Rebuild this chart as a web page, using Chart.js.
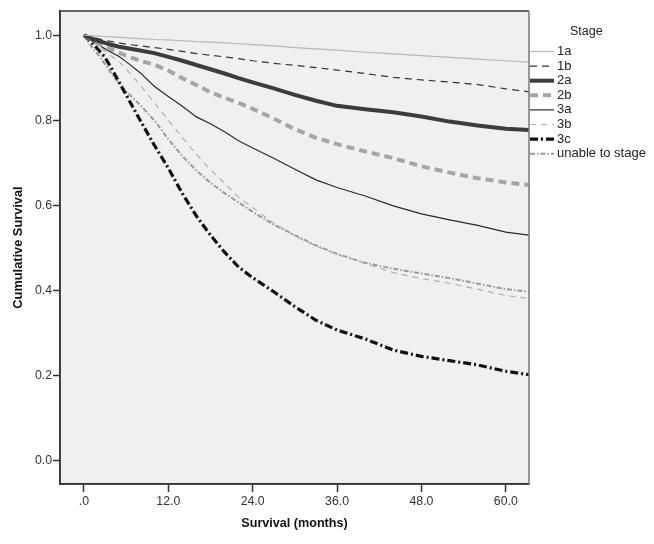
<!DOCTYPE html>
<html>
<head>
<meta charset="utf-8">
<script src="https://cdn.jsdelivr.net/npm/chart.js@4/dist/chart.umd.min.js"></script>
<style>
  html, body { margin: 0; padding: 0; background: #fff; }
  #wrap { width: 654px; height: 544px; }
</style>
</head>
<body>
<div id="wrap"><canvas id="chart" width="654" height="544"></canvas></div>
<script>
const months = [0, 1, 2, 3, 4, 5, 6, 8, 10, 12, 14, 16, 18, 20, 22, 24, 27, 30, 33, 36, 40, 44, 48, 52, 56, 60, 63.3];

const stages = ["1a", "1b", "2a", "2b", "3a", "3b", "3c", "unable to stage"];

const s1a = [1.0, .999, .998, .997, .996, .995, .994, .992, .990, .989, .987, .985, .984, .982, .980, .978, .975, .971, .968, .965, .960, .956, .952, .948, .944, .940, .937];
const s1b = [1.0, .996, .992, .988, .985, .982, .979, .975, .971, .967, .962, .957, .953, .949, .945, .940, .934, .929, .924, .918, .910, .901, .895, .890, .884, .874, .867];
const s2a = [1.0, .993, .987, .982, .977, .973, .970, .964, .958, .949, .940, .930, .920, .910, .899, .889, .875, .860, .846, .834, .826, .819, .809, .797, .788, .780, .777];
const s2b = [1.0, .990, .981, .973, .966, .959, .952, .940, .931, .917, .899, .883, .866, .853, .841, .827, .804, .779, .759, .744, .727, .711, .692, .677, .664, .654, .648];
const s3a = [1.0, .988, .978, .968, .959, .950, .938, .912, .880, .856, .833, .808, .792, .773, .752, .735, .711, .685, .660, .642, .622, .599, .580, .566, .553, .537, .530];
const s3b = [1.0, .987, .975, .962, .950, .938, .921, .883, .842, .800, .760, .720, .684, .652, .619, .595, .558, .528, .504, .485, .463, .442, .428, .417, .403, .388, .381];
const s3c = [1.0, .985, .967, .948, .920, .890, .860, .800, .742, .688, .628, .575, .530, .490, .455, .430, .397, .362, .330, .307, .286, .260, .245, .235, .225, .210, .202];
const sUnable = [1.0, .975, .955, .932, .908, .887, .868, .836, .800, .756, .716, .682, .653, .629, .607, .585, .555, .530, .506, .486, .465, .451, .440, .429, .416, .403, .397];

const xTicks = [0, 12, 24, 36, 48, 60];
const xTickLabels = [".0", "12.0", "24.0", "36.0", "48.0", "60.0"];
const yTicks = [0, 0.2, 0.4, 0.6, 0.8, 1.0];
const yTickLabels = ["0.0", "0.2", "0.4", "0.6", "0.8", "1.0"];

const seriesValues = [s1a, s1b, s2a, s2b, s3a, s3b, s3c, sUnable];
const styles = [
  { color: "#b8b8b8", width: 1.2, dash: [] },
  { color: "#333333", width: 1.2, dash: [7, 5] },
  { color: "#3c3c3c", width: 4, dash: [] },
  { color: "#a5a5a5", width: 4, dash: [8, 5] },
  { color: "#2a2a2a", width: 1.2, dash: [] },
  { color: "#b0b0b0", width: 1.2, dash: [6, 5] },
  { color: "#111111", width: 3.2, dash: [8, 3, 2, 3] },
  { color: "#9a9a9a", width: 2, dash: [5, 2, 1.5, 2] },
];

const FONT = "'Liberation Sans', Arial, sans-serif";

const datasets = stages.map((name, i) => ({
  label: name,
  data: months.map((m, j) => ({ x: m, y: seriesValues[i][j] })),
  borderColor: styles[i].color,
  borderWidth: styles[i].width,
  borderDash: styles[i].dash,
  pointRadius: 0,
  tension: 0,
  fill: false,
}));

// grey plot background and frame like the original
const plotFrame = {
  id: "plotFrame",
  beforeDraw(chart) {
    const a = chart.chartArea;
    const ctx = chart.ctx;
    ctx.save();
    ctx.fillStyle = "#f0f0f0";
    ctx.fillRect(a.left, a.top, a.right - a.left, a.bottom - a.top);
    ctx.restore();
  },
  afterDatasetsDraw(chart) {
    const a = chart.chartArea;
    const ctx = chart.ctx;
    ctx.save();
    ctx.lineWidth = 1.5;
    ctx.strokeStyle = "#333";
    ctx.beginPath();
    ctx.moveTo(a.right, a.top);
    ctx.lineTo(a.left, a.top);
    ctx.lineTo(a.left, a.bottom);
    ctx.lineTo(a.right, a.bottom);
    ctx.stroke();
    ctx.strokeStyle = "#777";
    ctx.beginPath();
    ctx.moveTo(a.right, a.top);
    ctx.lineTo(a.right, a.bottom);
    ctx.stroke();
    ctx.restore();
  },
};

// legend to the right of the plot, styled from the datasets
const stageLegend = {
  id: "stageLegend",
  afterDraw(chart) {
    const ctx = chart.ctx;
    const x0 = chart.chartArea.right + 1;
    ctx.save();
    ctx.fillStyle = "#222";
    ctx.font = "12.5px " + FONT;
    ctx.textBaseline = "middle";
    ctx.textAlign = "left";
    ctx.fillText("Stage", 570, 32);
    ctx.font = "13px " + FONT;
    chart.data.datasets.forEach((ds, i) => {
      const y = 51.5 + i * 14.6;
      ctx.strokeStyle = ds.borderColor;
      ctx.lineWidth = ds.borderWidth;
      ctx.setLineDash(ds.borderDash);
      ctx.beginPath();
      ctx.moveTo(x0, y);
      ctx.lineTo(x0 + 24, y);
      ctx.stroke();
      ctx.setLineDash([]);
      ctx.fillText(ds.label, x0 + 27, y);
    });
    ctx.restore();
  },
};

new Chart(document.getElementById("chart"), {
  type: "line",
  data: { datasets },
  plugins: [plotFrame, stageLegend],
  options: {
    responsive: false,
    animation: false,
    layout: { padding: { left: 5, right: 125, top: 11, bottom: 0 } },
    plugins: { legend: { display: false }, tooltip: { enabled: false } },
    scales: {
      x: {
        type: "linear",
        min: -3.4,
        max: 63.3,
        afterBuildTicks: (scale) => { scale.ticks = xTicks.map((v) => ({ value: v })); },
        afterFit: (scale) => { scale.height = 60; },
        ticks: {
          padding: 2,
          color: "#333",
          font: { family: FONT, size: 12.3 },
          maxRotation: 0,
          callback: (v) => xTickLabels[xTicks.indexOf(v)],
        },
        grid: { drawOnChartArea: false, drawTicks: true, tickLength: 8, color: "#333", tickWidth: 1.5 },
        border: { display: true, color: "#333", width: 1.5 },
        title: {
          display: true,
          text: "Survival (months)",
          color: "#111",
          font: { family: FONT, size: 12.6, weight: "bold" },
          padding: { top: 0, bottom: 13 },
        },
      },
      y: {
        type: "linear",
        min: -0.055,
        max: 1.057,
        afterBuildTicks: (scale) => { scale.ticks = yTicks.map((v) => ({ value: v })); },
        afterFit: (scale) => { scale.width = 55; },
        ticks: {
          padding: 1,
          color: "#333",
          font: { family: FONT, size: 12.3 },
          callback: (v) => yTickLabels[yTicks.findIndex((t) => Math.abs(t - v) < 1e-9)],
        },
        grid: { drawOnChartArea: false, drawTicks: true, tickLength: 7, color: "#333", tickWidth: 1.5 },
        border: { display: true, color: "#333", width: 1.5 },
        title: {
          display: true,
          text: "Cumulative Survival",
          color: "#111",
          font: { family: FONT, size: 12.8, weight: "bold" },
          padding: { top: 6, bottom: 0 },
        },
      },
    },
  },
});
</script>
</body>
</html>
